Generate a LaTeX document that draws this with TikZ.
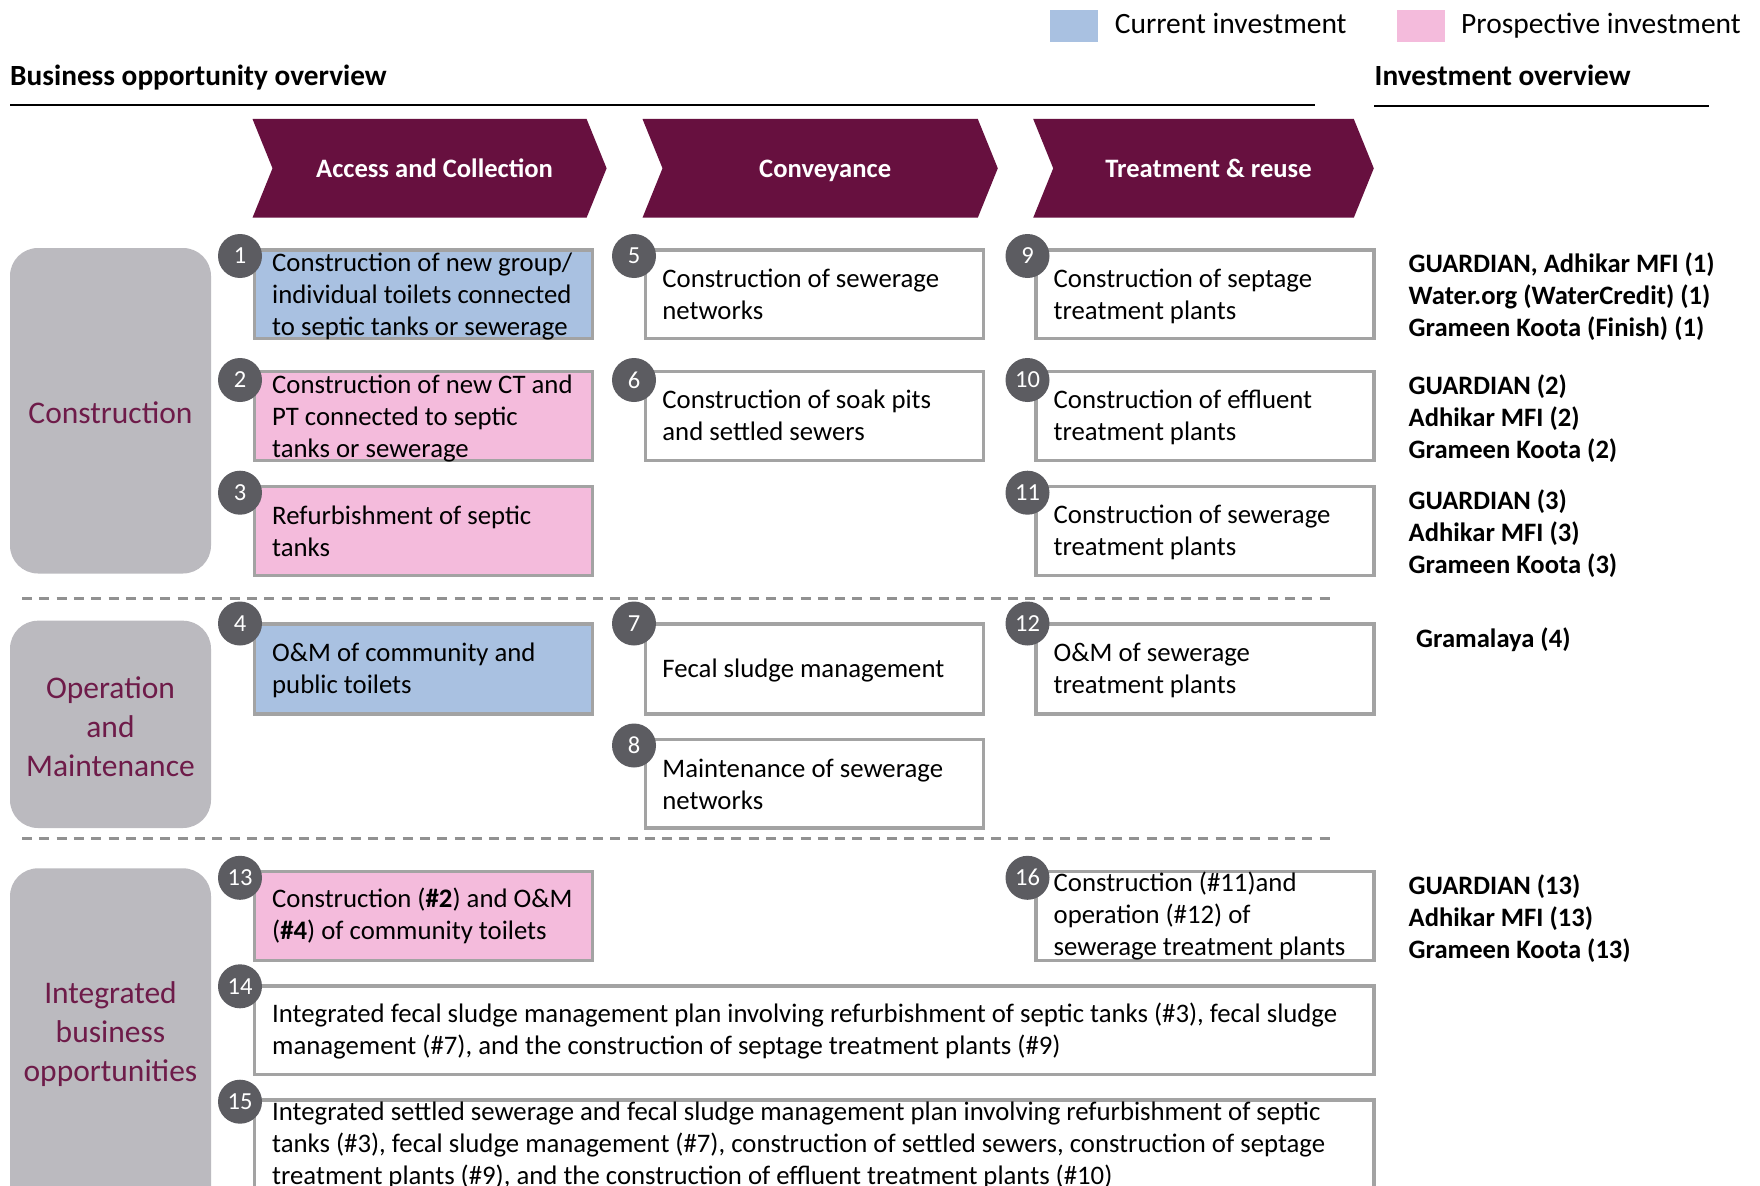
\documentclass[tikz,border=0pt]{standalone}
\usepackage{fontspec}
\setmainfont{Carlito}
\definecolor{chevred}{RGB}{103,16,63}
\definecolor{catred}{RGB}{110,27,73}
\definecolor{catgray}{RGB}{187,186,191}
\definecolor{curblue}{RGB}{169,193,225}
\definecolor{prospink}{RGB}{244,187,220}
\definecolor{boxline}{RGB}{163,163,163}
\definecolor{numgray}{RGB}{92,92,97}
\definecolor{dashgray}{RGB}{145,145,145}
\begin{document}
\begin{tikzpicture}[x=1pt,y=-1pt,
  body/.style={font=\fontsize{26.75}{32}\selectfont, align=left, inner sep=0pt, anchor=north west, text=black},
  inv/.style={font=\bfseries\fontsize{26.6}{32}\selectfont, align=left, inner sep=0pt, anchor=north west, text=black},
  head/.style={font=\bfseries\fontsize{29.3}{34}\selectfont, inner sep=0pt, anchor=base west},
  leg/.style={font=\fontsize{29.5}{34}\selectfont, inner sep=0pt, anchor=base west},
  key/.style={minimum width=47.7pt, minimum height=31.7pt, anchor=north west, inner sep=0pt},
  chevtext/.style={font=\bfseries\fontsize{26.6}{32}\selectfont, text=white, inner sep=0pt, anchor=base},
  box/.style={draw=boxline, line width=3.4pt, minimum width=337.8pt, minimum height=88.6pt, anchor=north west, inner sep=0pt},
  num/.style={circle, fill=numgray, text=white, minimum size=44pt, inner sep=0pt, font=\fontsize{24.5}{28}\selectfont},
  cattext/.style={text=catred, font=\fontsize{31.5}{39}\selectfont, align=center, inner sep=0pt},
  sep/.style={draw=dashgray, line width=2.6pt, dash pattern=on 10pt off 7.3pt}
]
\clip (0,0) rectangle (1760,1185);
\fill[white] (0,0) rectangle (1760,1185);

% legend
\node[key, fill=curblue] (curkey) at (1050,10) {};
\node[leg] (curtxt) at (1114.6,34) {Current investment};
\node[key, fill=prospink] (proskey) at (1397,10) {};
\node[leg] (prostxt) at (1461,34) {Prospective investment};

% section headings with rules
\node[head] (bizhead) at (10,85.5) {Business opportunity overview};
\node[head] (invhead) at (1374.5,85.5) {Investment overview};
\coordinate (bizruleL) at (10,105);
\coordinate (bizruleR) at (1315,105);
\coordinate (invruleL) at (1374,106);
\coordinate (invruleR) at (1709,106);
\draw[line width=2.2pt] (bizruleL) -- (bizruleR);
\draw[line width=2.2pt] (invruleL) -- (invruleR);

% value-chain chevrons
\foreach \L/\R/\lab [count=\i] in {252.5/606.6/Access and Collection, 642.5/997.8/Conveyance, 1033.2/1373.8/Treatment \& reuse}{
  \fill[chevred] (\L,119) -- (\R-20,119) -- (\R,168.3) -- (\R-20,217.7) -- (\L,217.7) -- (\L+20,168.3) -- cycle;
  \node[chevtext] (chev\i) at ({(\L+\R)/2+5},177.5) {\lab};
}

% category panels
\fill[catgray, rounded corners=28pt] (10,248) rectangle (211,573.5);
\fill[catgray, rounded corners=28pt] (10,620.7) rectangle (211,828);
\fill[catgray, rounded corners=28pt] (10,868.3) rectangle (211,1260);
\node[cattext, anchor=base] (catcon) at (110.5,423) {Construction};
\node[cattext, anchor=north] (catom) at (110.5,670.5) {\strut Operation\\and\\Maintenance};
\node[cattext, anchor=north] (catint) at (110.5,975.5) {\strut Integrated\\business\\opportunities};

% separators
\coordinate (sepAL) at (22,598.3);
\coordinate (sepAR) at (1336,598.3);
\coordinate (sepBL) at (22,838.3);
\coordinate (sepBR) at (1336,838.3);
\draw[sep] (sepAL) -- (sepAR);
\draw[sep] (sepBL) -- (sepBR);

% opportunity boxes
\node[box, fill=curblue]  (b1) at (253,248.4) {};
\node[box, fill=prospink] (b2) at (253,370) {};
\node[box, fill=prospink] (b3) at (253,485) {};
\node[box, fill=curblue, minimum height=90pt] (b4) at (253,622.4) {};
\node[box, fill=white] (b5) at (643.7,248.4) {};
\node[box, fill=white] (b6) at (643.7,370) {};
\node[box, fill=white, minimum height=90pt] (b7) at (643.7,622.4) {};
\node[box, fill=white] (b8) at (643.7,737.8) {};
\node[box, fill=white] (b9) at (1034.3,248.4) {};
\node[box, fill=white] (b10) at (1034.3,370) {};
\node[box, fill=white] (b11) at (1034.3,485) {};
\node[box, fill=white, minimum height=90pt] (b12) at (1034.3,622.4) {};
\node[box, fill=prospink] (b13) at (253,870) {};
\node[box, fill=white] (b16) at (1034.3,870) {};
\node[box, fill=white, minimum width=1119.1pt] (b14) at (253,984.4) {};
\node[box, fill=white, minimum width=1119.1pt, minimum height=120pt] (b15) at (253,1098.4) {};

% box texts
\node[body] (t1) at (272,248.6) {\strut Construction of new group/\\individual toilets connected\\to septic tanks or sewerage};
\node[body] (t2) at (272,370.9) {\strut Construction of new CT and\\PT connected to septic\\tanks or sewerage};
\node[body] (t3) at (272,501.9) {\strut Refurbishment of septic\\tanks};
\node[body] (t4) at (272,638.6) {\strut O\&M of community and\\public toilets};
\node[body] (t5) at (662.2,265.3) {\strut Construction of sewerage\\networks};
\node[body] (t6) at (662.2,385.9) {\strut Construction of soak pits\\and settled sewers};
\node[body] (t7) at (662.2,654.6) {\strut Fecal sludge management};
\node[body] (t8) at (662.2,755.3) {\strut Maintenance of sewerage\\networks};
\node[body] (t9) at (1053.5,265.3) {\strut Construction of septage\\treatment plants};
\node[body] (t10) at (1053.5,385.9) {\strut Construction of effluent\\treatment plants};
\node[body] (t11) at (1053.5,500.9) {\strut Construction of sewerage\\treatment plants};
\node[body] (t12) at (1053.5,638.6) {\strut O\&M of sewerage\\treatment plants};
\node[body] (t13) at (272,885.3) {\strut Construction (\textbf{\#2}) and O\&M\\(\textbf{\#4}) of community toilets};
\node[body] (t16) at (1053.5,868.6) {\strut Construction (\#11)and\\operation (\#12) of\\sewerage treatment plants};
\node[body] (t14) at (272,1000.3) {\strut Integrated fecal sludge management plan involving refurbishment of septic tanks (\#3), fecal sludge\\management (\#7), and the construction of septage treatment plants (\#9)};
\node[body] (t15) at (272,1097.4) {\strut Integrated settled sewerage and fecal sludge management plan involving refurbishment of septic\\tanks (\#3), fecal sludge management (\#7), construction of settled sewers, construction of septage\\treatment plants (\#9), and the construction of effluent treatment plants (\#10)};

% numbered markers
\node[num] (n1) at (240,256) {1};
\node[num] (n2) at (240,380) {2};
\node[num] (n3) at (240,492.7) {3};
\node[num] (n4) at (240,623.5) {4};
\node[num] (n5) at (634,256) {5};
\node[num] (n6) at (634,380) {6};
\node[num] (n7) at (634,623.5) {7};
\node[num] (n8) at (634,745.5) {8};
\node[num] (n9) at (1027.5,256) {9};
\node[num] (n10) at (1027.5,380) {10};
\node[num] (n11) at (1027.5,492.7) {11};
\node[num] (n12) at (1027.5,623.5) {12};
\node[num] (n13) at (240,877.8) {13};
\node[num] (n14) at (240,986.3) {14};
\node[num] (n15) at (240,1101.7) {15};
\node[num] (n16) at (1027.5,877.8) {16};

% investment overview column
\node[inv] (i1) at (1408.5,250.3) {\strut GUARDIAN, Adhikar MFI (1)\\Water.org (WaterCredit) (1)\\Grameen Koota (Finish) (1)};
\node[inv] (i2) at (1408.5,371.9) {\strut GUARDIAN (2)\\Adhikar MFI (2)\\Grameen Koota (2)};
\node[inv] (i3) at (1408.5,486.9) {\strut GUARDIAN (3)\\Adhikar MFI (3)\\Grameen Koota (3)};
\node[inv] (i4) at (1416,625.3) {\strut Gramalaya (4)};
\node[inv] (i13) at (1408.5,871.9) {\strut GUARDIAN (13)\\Adhikar MFI (13)\\Grameen Koota (13)};
\end{tikzpicture}
\end{document}
